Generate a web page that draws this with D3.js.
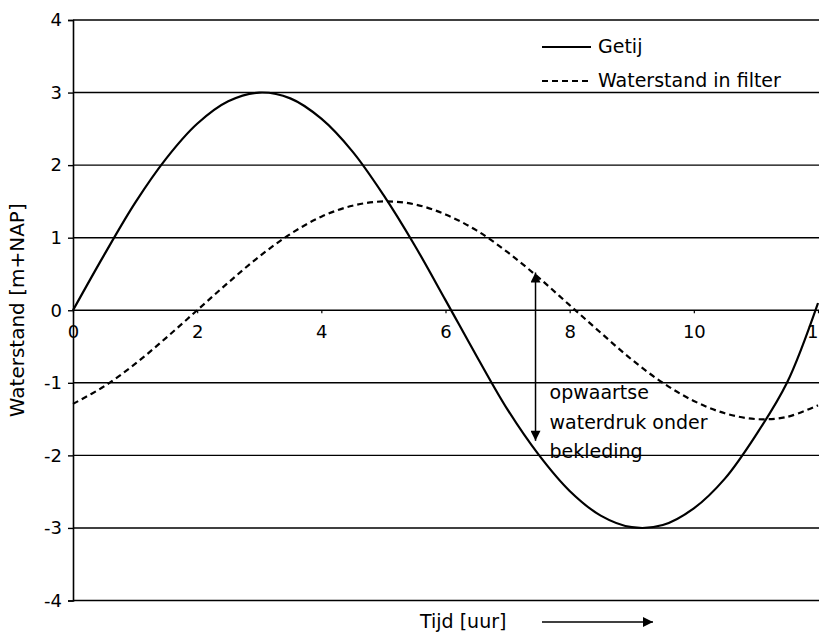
<!DOCTYPE html>
<head>
  <title>Getij en waterstand in filter</title>
  <meta charset="utf-8">
  <script src="https://d3js.org/d3.v7.min.js"></script>

  <style>
    body { margin: 0; background: #fff; }
    svg { display: block; font-family: 'DejaVu Sans', sans-serif; }
    .grid line { stroke: #000; stroke-width: 1.4; }
    .getij { fill: none; stroke: #000; stroke-width: 2.2; }
    .filter { fill: none; stroke: #000; stroke-width: 2.2; stroke-dasharray: 6 4; }
  </style>
</head>
<body>

  <svg width="819" height="632"></svg>

  <script>

  // Data (time in hours, level in m+NAP)
  var hours  = [0, 0.5, 1, 1.5, 2, 2.5, 3, 3.5, 4, 4.5, 5, 5.5, 6, 6.5, 7, 7.5, 8, 8.5, 9, 9.5, 10, 10.5, 11, 11.5, 12];
  var getij  = [0, 0.76, 1.48, 2.09, 2.57, 2.88, 3.0, 2.92, 2.64, 2.19, 1.59, 0.9, 0.14, -0.63, -1.37, -1.99, -2.49, -2.83, -2.99, -2.96, -2.73, -2.32, -1.72, -1.0, 0.1];
  var filter = [-1.29, -1.05, -0.74, -0.38, 0, 0.38, 0.74, 1.05, 1.29, 1.44, 1.5, 1.46, 1.32, 1.1, 0.8, 0.45, 0.07, -0.31, -0.68, -1.0, -1.25, -1.42, -1.5, -1.47, -1.31];

  var xTicks = [0, 2, 4, 6, 8, 10, 12];
  var yTicks = [-4, -3, -2, -1, 0, 1, 2, 3, 4];

  var legendLabels = ['Getij', 'Waterstand in filter'];
  var noteLines = ['opwaartse', 'waterdruk onder', 'bekleding'];
  // arrow between the two curves at this time
  var noteHour = 7.45, noteTop = 0.52, noteBottom = -1.8;

  var svg = d3.select('svg');
  var W = +svg.attr('width');

  var x = d3.scaleLinear().domain([0, 12]).range([73, 818]);
  var y = d3.scaleLinear().domain([-4, 4]).range([600.5, 20]);

  // plain hyphen for negatives, like the original
  var fmt = function(d) { return String(d); };

  // arrow head
  var defs = svg.append('defs');
  defs.append('marker')
    .attr('id', 'head')
    .attr('viewBox', '0 0 10 10')
    .attr('refX', 10).attr('refY', 5)
    .attr('markerWidth', 14).attr('markerHeight', 10)
    .attr('markerUnits', 'userSpaceOnUse')
    .attr('orient', 'auto-start-reverse')
    .append('path')
    .attr('d', 'M0,0L10,5L0,10Z')
    .attr('fill', '#000');

  // horizontal grid lines
  svg.append('g')
    .attr('class', 'grid')
    .selectAll('line')
    .data(yTicks)
    .enter().append('line')
    .attr('x1', x(0)).attr('x2', W)
    .attr('y1', function(d) { return y(d); })
    .attr('y2', function(d) { return y(d); });

  // y axis
  svg.append('g')
    .attr('class', 'axis axis-y')
    .attr('transform', 'translate(' + x(0) + ',0)')
    .call(d3.axisLeft(y).tickValues(yTicks).tickFormat(fmt).tickSize(5).tickPadding(6))
    .attr('font-family', "'DejaVu Sans', sans-serif")
    .attr('font-size', 18)
    .call(function(g) {
      g.select('.domain').attr('stroke', '#000').attr('stroke-width', 1.6);
      g.selectAll('.tick line').attr('stroke', '#000').attr('stroke-width', 1.4);
      g.selectAll('.tick text').attr('fill', '#000');
    });

  // x axis at level 0
  svg.append('g')
    .attr('class', 'axis axis-x')
    .attr('transform', 'translate(0,' + y(0) + ')')
    .call(d3.axisBottom(x).tickValues(xTicks).tickFormat(fmt).tickSize(3).tickPadding(12))
    .attr('font-family', "'DejaVu Sans', sans-serif")
    .attr('font-size', 18)
    .call(function(g) {
      g.select('.domain').remove();
      g.selectAll('.tick line').attr('stroke', '#000').attr('stroke-width', 1.2);
      g.selectAll('.tick text').attr('fill', '#000');
    });

  var line = d3.line()
    .curve(d3.curveCatmullRom)
    .x(function(d) { return x(d[0]); })
    .y(function(d) { return y(d[1]); });

  svg.append('path')
    .datum(d3.zip(hours, filter))
    .attr('class', 'filter')
    .attr('d', line);

  svg.append('path')
    .datum(d3.zip(hours, getij))
    .attr('class', 'getij')
    .attr('d', line);

  // legend
  var legend = svg.append('g').attr('transform', 'translate(542,47)');
  legendLabels.forEach(function(lab, i) {
    legend.append('line')
      .attr('class', i === 0 ? 'getij' : 'filter')
      .attr('x1', 0).attr('x2', 49)
      .attr('y1', i * 34).attr('y2', i * 34)
      .attr('stroke-dasharray', i === 0 ? null : '4.5 3');
    legend.append('text')
      .attr('x', 56).attr('y', i * 34 + 6)
      .attr('font-size', 19)
      .text(lab);
  });

  // double arrow with note
  svg.append('line')
    .attr('x1', x(noteHour)).attr('x2', x(noteHour))
    .attr('y1', y(noteTop)).attr('y2', y(noteBottom))
    .attr('stroke', '#000').attr('stroke-width', 1.5)
    .attr('marker-start', 'url(#head)')
    .attr('marker-end', 'url(#head)');

  svg.append('text')
    .attr('font-size', 19)
    .selectAll('tspan')
    .data(noteLines)
    .enter().append('tspan')
    .attr('x', x(noteHour) + 14)
    .attr('y', function(d, i) { return 399 + i * 29.5; })
    .text(function(d) { return d; });

  // axis titles
  svg.append('text')
    .attr('transform', 'translate(24,' + y(0) + ') rotate(-90)')
    .attr('text-anchor', 'middle')
    .attr('font-size', 20)
    .text('Waterstand [m+NAP]');

  svg.append('text')
    .attr('x', 420).attr('y', 628)
    .attr('font-size', 19)
    .text('Tijd [uur]');

  svg.append('line')
    .attr('x1', 542).attr('x2', 653)
    .attr('y1', 622).attr('y2', 622)
    .attr('stroke', '#000').attr('stroke-width', 1.5)
    .attr('marker-end', 'url(#head)');

  </script>

</body>
